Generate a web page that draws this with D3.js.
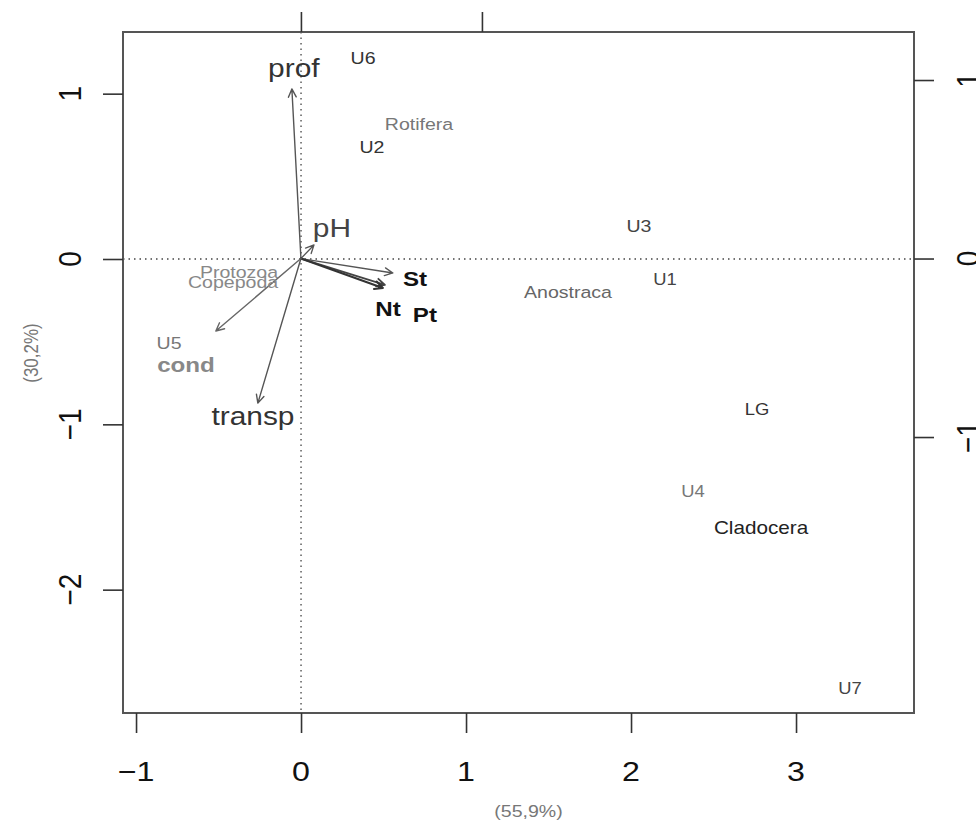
<!DOCTYPE html>
<html>
<head>
<meta charset="utf-8">
<script src="https://cdn.jsdelivr.net/npm/d3@7"></script>
<style>
  html, body { margin: 0; padding: 0; background: #ffffff; }
  svg { display: block; }
  text { font-family: "Liberation Sans", Arial, Helvetica, sans-serif; }
</style>
</head>
<body>
<svg id="chart" width="976" height="821"></svg>
<script>
// ---------------- DATA ----------------
const xTicks = [-1, 0, 1, 2, 3];
const yTicks = [-2, -1, 0, 1];
const topTicks = [0, 1];
const rightTicks = [-1, 0, 1];
const xTitle = "(55,9%)";
const yTitle = "(30,2%)";

// sites (sample scores)
const siteNames = ["U6", "U2", "U3", "U1", "U5", "LG", "U4", "U7"];
const siteX = [0.376, 0.430, 2.048, 2.206, -0.800, 2.764, 2.376, 3.327];
const siteY = [1.216, 0.678, 0.200, -0.121, -0.508, -0.907, -1.404, -2.595];

// species scores
const speciesNames = ["Rotifera", "Anostraca", "Cladocera", "Protozoa", "Copepoda"];
const speciesX = [0.715, 1.618, 2.788, -0.376, -0.412];
const speciesY = [0.817, -0.200, -1.627, -0.079, -0.139];

// environmental variables (arrow tips, on top/right scale)
const varNames = ["prof", "pH", "St", "Pt", "Nt", "cond", "transp"];
const varX = [-0.050, 0.072, 0.508, 0.464, 0.453, -0.470, -0.238];
const varY = [0.950, 0.076, -0.081, -0.148, -0.165, -0.406, -0.810];
const varLabelX = [-0.039, 0.171, 0.630, 0.685, 0.481, -0.635, -0.265];
const varLabelY = [1.067, 0.171, -0.115, -0.317, -0.283, -0.597, -0.882];

// ---------------- STYLES ----------------
const SX = 1.15; // horizontal stretch of glyphs seen in the reference
const siteStyle = {
  U6: {c: "#333", s: 17}, U2: {c: "#333", s: 17}, U3: {c: "#444", s: 17},
  U1: {c: "#444", s: 16}, U5: {c: "#777", s: 17}, LG: {c: "#333", s: 16},
  U4: {c: "#777", s: 16}, U7: {c: "#444", s: 16}
};
const speciesStyle = {
  Rotifera: {c: "#777", s: 17}, Anostraca: {c: "#666", s: 17},
  Cladocera: {c: "#222", s: 18}, Protozoa: {c: "#888", s: 17}, Copepoda: {c: "#888", s: 17}
};
const varStyle = {
  prof: {c: "#333", s: 26, w: "normal", a: "#555", aw: 1.4},
  pH: {c: "#444", s: 26, w: "normal", a: "#555", aw: 1.3},
  St: {c: "#111", s: 21, w: "bold", a: "#555", aw: 1.3},
  Pt: {c: "#111", s: 21, w: "bold", a: "#444", aw: 1.8},
  Nt: {c: "#111", s: 21, w: "bold", a: "#333", aw: 2.0},
  cond: {c: "#888", s: 21, w: "bold", a: "#666", aw: 1.4},
  transp: {c: "#333", s: 26, w: "normal", a: "#555", aw: 1.4}
};

// ---------------- LAYOUT ----------------
const box = {left: 123, right: 914, top: 32, bottom: 713};
const svg = d3.select("#chart");

const x = d3.scaleLinear().domain([-1.079, 3.715]).range([box.left, box.right]);
const y = d3.scaleLinear().domain([-2.746, 1.373]).range([box.bottom, box.top]);
const xv = d3.scaleLinear().domain([-0.983, 3.387]).range([box.left, box.right]);
const yv = d3.scaleLinear().domain([-2.546, 1.269]).range([box.bottom, box.top]);

function label(px, py, str, size, color, weight, rotate) {
  const t = svg.append("text")
    .attr("transform", `translate(${px},${py}) scale(${SX},1)` + (rotate ? " rotate(-90)" : ""))
    .attr("text-anchor", "middle")
    .attr("dominant-baseline", "central")
    .attr("font-size", size)
    .attr("fill", color)
    .attr("font-weight", weight || "normal")
    .text(str);
  return t;
}

// dotted zero lines
svg.append("line")
  .attr("x1", box.left).attr("x2", box.right)
  .attr("y1", y(0)).attr("y2", y(0))
  .attr("stroke", "#444").attr("stroke-width", 1.3)
  .attr("stroke-dasharray", "1.5,4");
svg.append("line")
  .attr("x1", x(0)).attr("x2", x(0))
  .attr("y1", box.top).attr("y2", box.bottom)
  .attr("stroke", "#444").attr("stroke-width", 1.3)
  .attr("stroke-dasharray", "1.5,4");

// frame
svg.append("rect")
  .attr("x", box.left).attr("y", box.top)
  .attr("width", box.right - box.left).attr("height", box.bottom - box.top)
  .attr("fill", "none").attr("stroke", "#555").attr("stroke-width", 2);

// axes (ticks via d3 axes, labels drawn stretched)
const tickLen = 20;
function styleAxis(g) {
  g.select(".domain").remove();
  g.selectAll(".tick line").attr("stroke", "#333").attr("stroke-width", 1.6);
  g.selectAll(".tick text").remove();
}
svg.append("g").attr("transform", `translate(0,${box.bottom})`)
  .call(d3.axisBottom(x).tickValues(xTicks).tickSize(tickLen)).call(styleAxis);
svg.append("g").attr("transform", `translate(${box.left},0)`)
  .call(d3.axisLeft(y).tickValues(yTicks).tickSize(tickLen)).call(styleAxis);
svg.append("g").attr("transform", `translate(0,${box.top})`)
  .call(d3.axisTop(xv).tickValues(topTicks).tickSize(tickLen)).call(styleAxis);
svg.append("g").attr("transform", `translate(${box.right},0)`)
  .call(d3.axisRight(yv).tickValues(rightTicks).tickSize(tickLen)).call(styleAxis);

const fmt = v => (v < 0 ? "\u2212" + Math.abs(v) : String(v));
xTicks.forEach(v => label(x(v), 771, fmt(v), 28, "#111"));
yTicks.forEach(v => label(70, y(v), fmt(v), 28, "#111", "normal", true));
rightTicks.forEach(v => label(968, yv(v), fmt(v), 28, "#111", "normal", true));

// axis titles
label((box.left + box.right) / 2 + 10, 811, xTitle, 17, "#777");
label(31, 353, yTitle, 17, "#777", "normal", true);

// arrows
const origin = [xv(0), yv(0)];
varNames.forEach((n, i) => {
  const st = varStyle[n];
  const tx = xv(varX[i]), ty = yv(varY[i]);
  const ang = Math.atan2(ty - origin[1], tx - origin[0]);
  const hl = 9, ha = Math.PI / 7;
  const p = d3.path();
  p.moveTo(origin[0], origin[1]);
  p.lineTo(tx, ty);
  p.moveTo(tx - hl * Math.cos(ang - ha), ty - hl * Math.sin(ang - ha));
  p.lineTo(tx, ty);
  p.lineTo(tx - hl * Math.cos(ang + ha), ty - hl * Math.sin(ang + ha));
  svg.append("path").attr("d", p.toString())
    .attr("fill", "none").attr("stroke", st.a).attr("stroke-width", st.aw)
    .attr("stroke-linecap", "round").attr("stroke-linejoin", "round");
});

// species labels
speciesNames.forEach((n, i) => {
  const st = speciesStyle[n];
  label(x(speciesX[i]), y(speciesY[i]), n, st.s, st.c);
});

// site labels
siteNames.forEach((n, i) => {
  const st = siteStyle[n];
  label(x(siteX[i]), y(siteY[i]), n, st.s, st.c);
});

// variable labels
varNames.forEach((n, i) => {
  const st = varStyle[n];
  label(xv(varLabelX[i]), yv(varLabelY[i]), n, st.s, st.c, st.w);
});
</script>
</body>
</html>
